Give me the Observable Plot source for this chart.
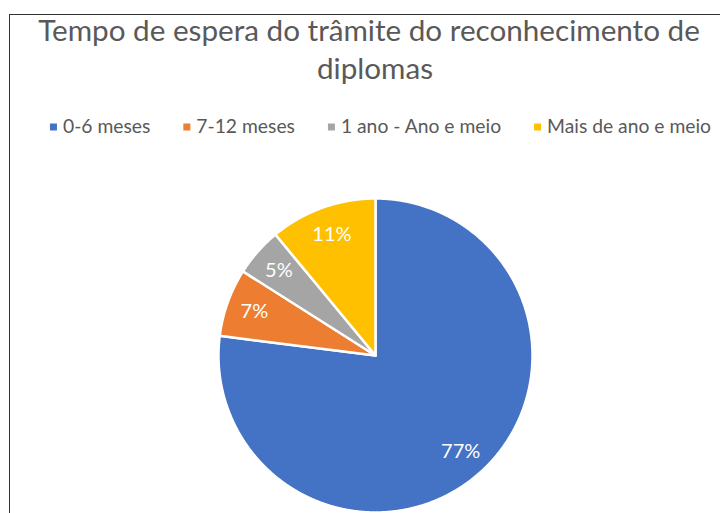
<!DOCTYPE html>
<html>
<head>
<meta charset="utf-8">
<script src="https://cdn.jsdelivr.net/npm/d3@7"></script>
<script src="https://cdn.jsdelivr.net/npm/@observablehq/plot@0.6"></script>
<style>
  html, body { margin: 0; padding: 0; background: #fff; }
  body { width: 720px; height: 513px; overflow: hidden; position: relative; font-family: Lato, "Open Sans", sans-serif; }
  #frameTop { position: absolute; left: 9px; top: 14px; width: 720px; height: 0; border-top: 1px solid #333; }
  #frameLeft { position: absolute; left: 9px; top: 14px; width: 0; height: 520px; border-left: 1px solid #333; }
  #header { position: absolute; left: 0; top: 0; }
  #chart { position: absolute; left: 0; top: 145px; }
</style>
</head>
<body>
<div id="frameTop"></div>
<div id="frameLeft"></div>
<svg id="header" width="720" height="145"></svg>
<div id="chart"></div>
<script>
// ---- data ----
const titleLines = ["Tempo de espera do trâmite do reconhecimento de", "diplomas"];
const categories = ["0-6 meses", "7-12 meses", "1 ano - Ano e meio", "Mais de ano e meio"];
const values = [77, 7, 5, 11];
const colors = ["#4472C4", "#ED7D31", "#A5A5A5", "#FFC000"];

const FONT = "Lato, 'Open Sans', sans-serif";
const textColor = "#595959";

// ---- header: title + legend ----
const header = d3.select("#header");
function fitSize(text, targetWidth) {
  const t = header.append("text").attr("font-family", FONT).attr("font-size", 100).text(text);
  const w = t.node().getComputedTextLength();
  t.remove();
  return 100 * targetWidth / w;
}
const titleSize = fitSize(titleLines[0], 662);
header.append("text").attr("x", 369).attr("y", 41)
  .attr("text-anchor", "middle").attr("font-family", FONT).attr("font-size", titleSize)
  .attr("fill", textColor).text(titleLines[0]);
header.append("text").attr("x", 375).attr("y", 79)
  .attr("text-anchor", "middle").attr("font-family", FONT).attr("font-size", titleSize)
  .attr("fill", textColor).text(titleLines[1]);

// legend
const legendSize = fitSize(categories.join(""), 510);
const widths = categories.map(c => {
  const t = header.append("text").attr("font-family", FONT).attr("font-size", legendSize).text(c);
  const w = t.node().getComputedTextLength(); t.remove(); return w;
});
const sw = 7, textOff = 13, gap = 33;
const total = d3.sum(widths) + categories.length * textOff + (categories.length - 1) * gap;
let lx = 380.5 - total / 2;
categories.forEach((c, i) => {
  header.append("rect").attr("x", lx).attr("y", 123.5).attr("width", sw).attr("height", sw).attr("fill", colors[i]);
  header.append("text").attr("x", lx + textOff).attr("y", 132.5)
    .attr("font-family", FONT).attr("font-size", legendSize).attr("fill", textColor).text(c);
  lx += textOff + widths[i] + gap;
});

// ---- pie geometry from the values ----
const arcs = d3.pie().sort(null)(values);
const slicePoints = [];
arcs.forEach((a, i) => {
  const cat = categories[i];
  slicePoints.push({cat, x: 0, y: 0});
  const n = Math.max(2, Math.ceil((a.endAngle - a.startAngle) / 0.005));
  for (let k = 0; k <= n; k++) {
    const t = a.startAngle + (a.endAngle - a.startAngle) * k / n;
    slicePoints.push({cat, x: Math.sin(t), y: Math.cos(t)});
  }
});
const labels = arcs.map((a, i) => {
  const m = (a.startAngle + a.endAngle) / 2;
  return {cat: categories[i], x: 0.82 * Math.sin(m), y: 0.82 * Math.cos(m), label: values[i] + "%"};
});

const cx = 375, cy = 210, R = 157;
const chart = Plot.plot({
  width: 720,
  height: 368,
  margin: 0,
  x: {domain: [-1, 1], range: [cx - R, cx + R], axis: null},
  y: {domain: [-1, 1], range: [cy + R, cy - R], axis: null},
  color: {domain: categories, range: colors},
  style: {background: "transparent", fontFamily: FONT},
  marks: [
    Plot.line(slicePoints, {x: "x", y: "y", z: "cat", fill: "cat", stroke: "white", strokeWidth: 2.5, curve: "linear-closed"}),
    Plot.text(labels, {x: "x", y: "y", text: "label", fill: "white", fontSize: 20, textAnchor: "middle", lineAnchor: "middle"})
  ]
});
document.getElementById("chart").appendChild(chart);
</script>
</body>
</html>
